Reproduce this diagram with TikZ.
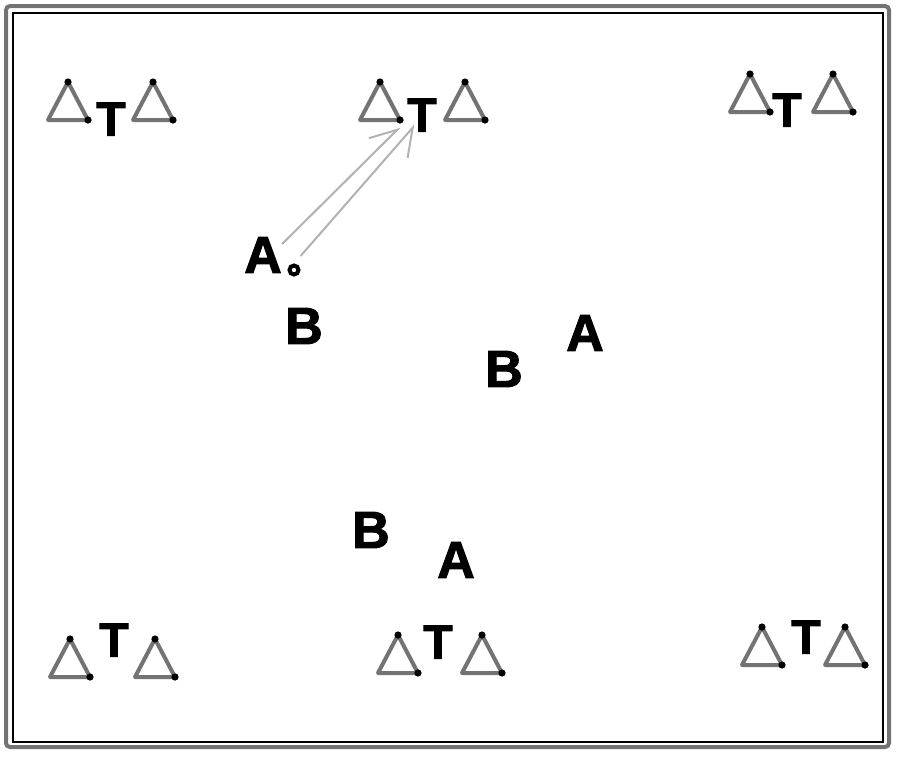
\documentclass[tikz,border=0pt]{standalone}
\usepackage{fontspec}
\setsansfont{Liberation Sans}[BoldFeatures={FakeBold=2}]
\usetikzlibrary{arrows.meta}

\tikzset{
    marker/.style={inner sep=0pt, font=\sffamily\bfseries\fontsize{24}{24}\selectfont},
    player/.style={inner sep=0pt, font=\sffamily\bfseries\fontsize{26}{26}\selectfont},
    ballmark/.style={circle, draw=black, fill=white, line width=2pt, minimum size=4.5pt, inner sep=0pt},
    conepath/.style={draw=black!55, line width=2pt, line join=round},
    pass/.style={draw=black!30, line width=1pt},
}

\newcommand{\cone}[2]{%
    \draw[conepath] (#1-20,#2) -- (#1,#2-38) -- (#1+20,#2) -- cycle;
    \fill (#1,#2-38) circle (1.8pt);
    \fill (#1+20,#2) circle (1.8pt);
}

\begin{document}
\begin{tikzpicture}[x=0.5pt, y=-0.5pt]
    \useasboundingbox (0,0) rectangle (900,757);
    \fill[white] (0,0) rectangle (900,757);

    % field border
    \draw[black!55, line width=2pt, rounded corners=2pt] (6,6) rectangle (889,747);
    \draw[black, line width=0.6pt] (13,13) rectangle (883,742);

    % cone gates
    \foreach \x/\y in {68/120, 153/120, 380/120, 465/120, 750/112, 833/112,
                       70/677, 155/677, 398/673, 482/673, 762/665, 845/665} {
        \cone{\x}{\y}
    }

    \node[marker] (t1) at (111,119) {T};
    \node[marker] (t2) at (422,115) {T};
    \node[marker] (t3) at (787,110) {T};
    \node[marker] (t4) at (114,640) {T};
    \node[marker] (t5) at (438,642) {T};
    \node[marker] (t6) at (806,637) {T};

    % players
    \node[player] (a1) at (263,255) {A};
    \node[ballmark] (ball) at (294,270) {};
    \node[player] (b1) at (304,326) {B};
    \node[player] (a2) at (585,333) {A};
    \node[player] (b2) at (504,369) {B};
    \node[player] (b3) at (371,530) {B};
    \node[player] (a3) at (456,560) {A};

    % pass to the gate
    \coordinate (aim1) at (400,127);
    \coordinate (aim2) at (415,125);
    \draw[pass, -{Straight Barb[left, length=13pt, width=14pt]}] (a1.30) -- (aim1);
    \draw[pass, shorten <=5pt, -{Straight Barb[right, length=13pt, width=16pt]}] (ball.north) -- (aim2);
\end{tikzpicture}
\end{document}
